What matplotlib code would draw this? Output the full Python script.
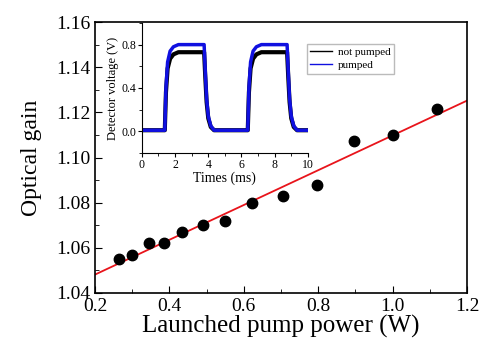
import matplotlib
matplotlib.use("Agg")
import matplotlib.pyplot as plt
from matplotlib.ticker import MultipleLocator
import numpy as np

plt.rcParams["font.family"] = ["Liberation Serif", "DejaVu Serif"]

# main data: launched pump power (W) vs optical gain
power = [0.265, 0.30, 0.345, 0.385, 0.435, 0.49, 0.55, 0.622, 0.705, 0.797, 0.896, 1.0, 1.118]
gain = [1.055, 1.057, 1.062, 1.062, 1.067, 1.070, 1.072, 1.080, 1.083, 1.088, 1.1075, 1.110, 1.1215]

# inset: detector traces (breakpoints)
t_ms = [0, 1.38, 1.45, 1.55, 1.7, 1.9, 2.2, 3.75, 3.82, 3.9, 4.0, 4.15, 4.35,
        6.38, 6.45, 6.55, 6.7, 6.9, 7.2, 8.75, 8.82, 8.9, 9.0, 9.15, 9.35, 9.95]
v_pumped = [0.01, 0.01, 0.40, 0.64, 0.74, 0.78, 0.80, 0.80, 0.55, 0.30, 0.14, 0.05, 0.01,
            0.01, 0.40, 0.64, 0.74, 0.78, 0.80, 0.80, 0.55, 0.30, 0.14, 0.05, 0.01, 0.01]
v_not_pumped = [0.01, 0.01, 0.36, 0.58, 0.67, 0.71, 0.73, 0.73, 0.50, 0.27, 0.12, 0.04, 0.01,
                0.01, 0.36, 0.58, 0.67, 0.71, 0.73, 0.73, 0.50, 0.27, 0.12, 0.04, 0.01, 0.01]

fig = plt.figure(figsize=(4.81, 3.53), dpi=100)
ax = fig.add_axes([0.1975, 0.17, 0.7735, 0.7675])

slope, icept = np.polyfit(power, gain, 1)
xl = np.array([0.2, 1.2])
ax.plot(xl, slope * xl + icept, color="#e8141b", lw=1.3, zorder=2)
ax.plot(power, gain, "o", color="black", ms=7.5, zorder=3)

ax.set_xlim(0.2, 1.2)
ax.set_ylim(1.04, 1.16)
ax.xaxis.set_major_locator(MultipleLocator(0.2))
ax.xaxis.set_minor_locator(MultipleLocator(0.1))
ax.yaxis.set_major_locator(MultipleLocator(0.02))
ax.yaxis.set_minor_locator(MultipleLocator(0.01))
ax.xaxis.set_major_formatter(plt.FormatStrFormatter("%.1f"))
ax.yaxis.set_major_formatter(plt.FormatStrFormatter("%.2f"))
ax.tick_params(which="both", direction="in", labelsize=14)
ax.tick_params(which="major", length=5)
ax.tick_params(which="minor", length=3)
for s in ax.spines.values():
    s.set_linewidth(1.2)
ax.set_xlabel("Launched pump power (W)", fontsize=18, labelpad=0)
ax.set_ylabel("Optical gain", fontsize=17, labelpad=10)

# inset
ins = fig.add_axes([0.295, 0.5666, 0.345, 0.3684])
ins.plot(t_ms, v_not_pumped, color="black", lw=3, label="not pumped")
ins.plot(t_ms, v_pumped, color="#1010e0", lw=2.5, label="pumped")
ins.set_xlim(0, 10)
ins.set_ylim(-0.2, 1.0)
ins.xaxis.set_major_locator(MultipleLocator(2))
ins.xaxis.set_minor_locator(MultipleLocator(1))
ins.yaxis.set_major_locator(MultipleLocator(0.4))
ins.yaxis.set_minor_locator(MultipleLocator(0.2))
ins.yaxis.set_major_formatter(plt.FormatStrFormatter("%.1f"))
ins.spines["top"].set_visible(False)
ins.spines["right"].set_visible(False)
ins.tick_params(which="both", direction="out", labelsize=8.5, pad=1)
ins.tick_params(which="major", length=3)
ins.tick_params(which="minor", length=2)
ins.set_xlabel("Times (ms)", fontsize=10, labelpad=1)
ins.set_ylabel("Detector voltage (V)", fontsize=9, labelpad=2)
ins.patch.set_alpha(0)
leg = ins.legend(loc="upper left", bbox_to_anchor=(0.638, 0.875),
                 bbox_transform=fig.transFigure, fontsize=8, frameon=True,
                 fancybox=False, edgecolor="#aaaaaa", handlelength=2.0,
                 handletextpad=0.5, borderpad=0.3, labelspacing=0.3,
                 borderaxespad=0)
for l in leg.get_lines():
    l.set_linewidth(1)

fig.savefig("out.png", dpi=100)
